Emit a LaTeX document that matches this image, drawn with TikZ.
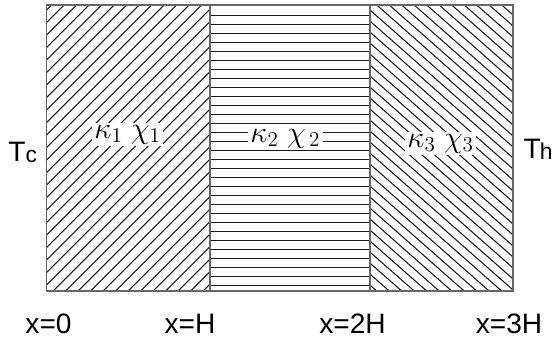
\documentclass[tikz,border=0pt]{standalone}
\usepackage{amsmath}
\usepackage{fontspec}
\setmainfont{Liberation Sans}
\usetikzlibrary{calc}

\tikzset{
  hatch/.style={black!90,line width=0.6pt},
  wall/.style={black!60,line width=0.8pt},
  lbl/.style={font=\fontsize{16}{18}\selectfont,inner sep=0pt},
  mat/.style={font=\fontsize{17}{19}\selectfont,fill=white,inner sep=1.2pt}
}
\newcommand{\smallsub}[1]{{\fontsize{13}{15}\selectfont\raisebox{-1pt}{#1}}}

\begin{document}
\begin{tikzpicture}[x=0.02cm,y=0.02cm]
  \useasboundingbox (0,0) rectangle (553,339);

  % layer corners
  \coordinate (A) at (46.5,48);
  \coordinate (B) at (210,334);
  \coordinate (C) at (370,48);
  \coordinate (D) at (513,334);

  % layer 1: / hatching
  \begin{scope}
    \clip (A) rectangle (B);
    \foreach \i in {0,...,35} {
      \draw[hatch] (-234.3+12.5*\i,48) -- ++(286,286);
    }
  \end{scope}

  % layer 2: horizontal lines
  \foreach \i in {0,...,30} {
    \draw[hatch] (210,323.7-9*\i) -- (370,323.7-9*\i);
  }

  % layer 3: \ hatching
  \begin{scope}
    \clip (C) rectangle (D);
    \foreach \i in {0,...,37} {
      \draw[hatch] (51.7+12.5*\i,334) -- ++(325,-286);
    }
  \end{scope}

  % walls
  \draw[wall] (A) rectangle (D);
  \draw[wall] (210,48) -- (B);
  \draw[wall] (C) -- (370,334);

  % material labels
  \node[mat,anchor=base west] (mat1) at (92,201)  {$\kappa_1\ \chi_1$};
  \node[mat,anchor=base west] (mat2) at (248,197) {$\kappa_2\ \chi_{\,2}$};
  \node[mat,anchor=base west] (mat3) at (405,192) {$\kappa_3\ \chi_3$};

  % temperatures
  \node[lbl,anchor=base west] (Tc) at (8,178)   {T\smallsub{c}};
  \node[lbl,anchor=base east] (Th) at (553,181) {T\kern-0.5pt\smallsub{h}};

  % positions
  \node[lbl,anchor=base] (x0)  at (48.5,5.5) {x=0};
  \node[lbl,anchor=base] (xH)  at (190,5.5)  {x=H};
  \node[lbl,anchor=base] (x2H) at (352.5,5.5) {x=2H};
  \node[lbl,anchor=base] (x3H) at (509,5.5)  {x=3H};
\end{tikzpicture}
\end{document}
